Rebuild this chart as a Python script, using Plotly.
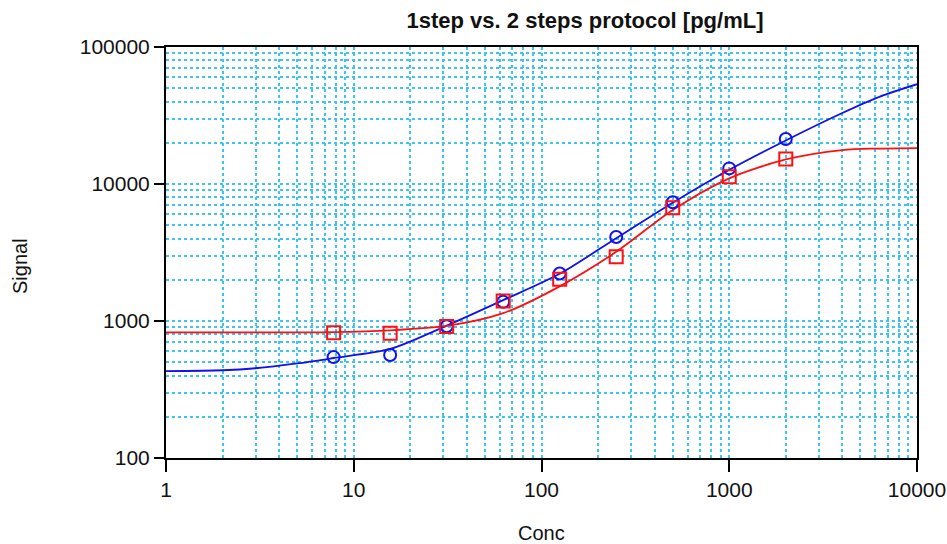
import plotly.graph_objects as go

# measured points
conc_pts = [7.8125, 15.625, 31.25, 62.5, 125, 250, 500, 1000, 2000]
blue_pts = [545, 565, 915, 1380, 2220, 4100, 7350, 13000, 21300]
red_pts = [820, 813, 910, 1400, 2020, 2940, 6720, 11300, 15200]

# fitted curves
blue_curve_x = [1, 2, 3, 5, 7.8125, 15.625, 31.25, 62.5, 125, 250, 500, 1000, 2000, 4000, 6300, 10000]
blue_curve_y = [431, 437, 452, 490, 537, 625, 925, 1420, 2210, 4020, 7300, 12700, 20800, 33000, 43300, 53500]
red_curve_x = [1, 3, 7.8125, 15.625, 31.25, 62.5, 125, 250, 500, 1000, 2000, 4000, 6300, 10000]
red_curve_y = [826, 826, 830, 855, 920, 1140, 1790, 3200, 6450, 11000, 15100, 17700, 18150, 18300]

title_text = "1step vs. 2 steps protocol [pg/mL]"
x_title = "Conc"
y_title = "Signal"
x_ticks = [1, 10, 100, 1000, 10000]
y_ticks = [100, 1000, 10000, 100000]

BLUE = "#1010F0"
RED = "#FF1010"
GRID = "#3CC4F2"

W, H = 947, 544
L, R, T, B = 166, 30, 47, 86
PW, PH = W - L - R, H - T - B

fig = go.Figure()
fig.add_trace(go.Scatter(x=blue_curve_x, y=blue_curve_y, mode="lines",
                         line=dict(color=BLUE, width=1.8, shape="spline", smoothing=0.8),
                         showlegend=False))
fig.add_trace(go.Scatter(x=red_curve_x, y=red_curve_y, mode="lines",
                         line=dict(color=RED, width=1.8, shape="spline", smoothing=0.8),
                         showlegend=False))
fig.add_trace(go.Scatter(x=conc_pts, y=blue_pts, mode="markers",
                         marker=dict(symbol="circle-open", size=12, color=BLUE, line=dict(width=2, color=BLUE)),
                         showlegend=False))
fig.add_trace(go.Scatter(x=conc_pts, y=red_pts, mode="markers",
                         marker=dict(symbol="square-open", size=13, color=RED, line=dict(width=2, color=RED)),
                         showlegend=False))

minor_x = [k * 10 ** n for n in range(0, 4) for k in range(2, 10)]
minor_y = [k * 10 ** n for n in range(2, 5) for k in range(2, 10)]

font_family = "Liberation Sans, Arial, sans-serif"

fig.update_layout(
    width=W, height=H,
    margin=dict(l=L, r=R, t=T, b=B, autoexpand=False),
    plot_bgcolor="white", paper_bgcolor="white",
    font=dict(family=font_family, size=20, color="#111111"),
    title=dict(text="<b>" + title_text + "</b>", x=585 / W, xanchor="center",
               y=1 - 20 / H, yanchor="middle", font=dict(size=22, color="#111111")),
    xaxis=dict(type="log", range=[0, 4], tickvals=x_ticks, ticktext=[str(v) for v in x_ticks],
               showline=True, linecolor="black", linewidth=2, mirror=True, automargin=False,
               ticks="outside", ticklen=12, tickwidth=2, tickcolor="black",
               showgrid=True, gridcolor=GRID, griddash="dot", gridwidth=1.5,
               minor=dict(tickvals=minor_x, showgrid=True, gridcolor=GRID, griddash="dot", gridwidth=1.5, ticks=""),
               zeroline=False, tickfont=dict(size=21)),
    yaxis=dict(type="log", range=[2, 5], tickvals=y_ticks, ticktext=[str(v) for v in y_ticks],
               showline=True, linecolor="black", linewidth=2, mirror=True, automargin=False,
               ticks="outside", ticklen=10, tickwidth=2, tickcolor="black",
               showgrid=True, gridcolor=GRID, griddash="dot", gridwidth=1.5,
               minor=dict(tickvals=minor_y, showgrid=True, gridcolor=GRID, griddash="dot", gridwidth=1.5, ticks=""),
               zeroline=False, tickfont=dict(size=21)),
    annotations=[
        dict(text=x_title, xref="paper", yref="paper", x=0.5, y=-(533 - (T + PH)) / PH,
             xanchor="center", yanchor="middle", showarrow=False, font=dict(size=20)),
        dict(text=y_title, xref="paper", yref="paper", x=-(L - 20) / PW, y=(T + PH - 266) / PH,
             xanchor="center", yanchor="middle", textangle=-90, showarrow=False, font=dict(size=20)),
    ],
)

fig.write_html("out.html")
